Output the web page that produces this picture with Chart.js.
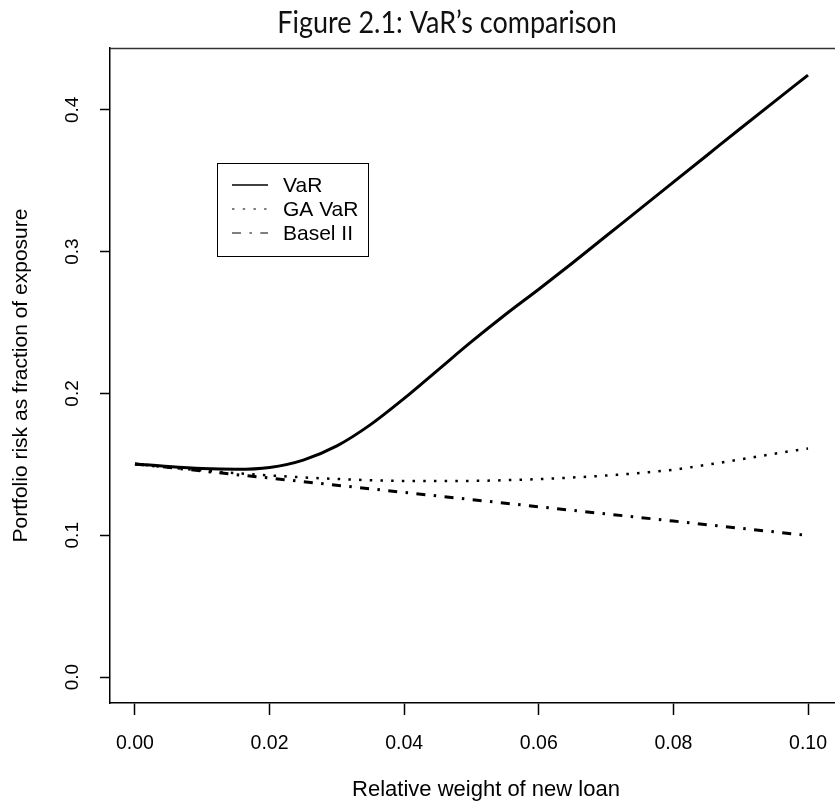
<!DOCTYPE html>
<html>
<head>
<meta charset="utf-8">
<script src="https://cdn.jsdelivr.net/npm/chart.js@4.4.0/dist/chart.umd.min.js"></script>
<style>
  html, body { margin: 0; padding: 0; background: #fff; overflow: hidden; }
  #wrap { width: 835px; height: 803px; overflow: hidden; }
</style>
</head>
<body>
<div id="wrap"><canvas id="out" width="862" height="803"></canvas></div>
<script>
// values
const weights = [0, 0.005, 0.01, 0.015, 0.02, 0.025, 0.03, 0.035, 0.04, 0.045, 0.05,
  0.055, 0.06, 0.065, 0.07, 0.075, 0.08, 0.085, 0.09, 0.095, 0.1];
const varRisk = [0.1503, 0.1484, 0.1470, 0.1465, 0.1478, 0.1530, 0.1630, 0.1780, 0.1965, 0.2165, 0.2365,
  0.2555, 0.2735, 0.2920, 0.3110, 0.3300, 0.3490, 0.3680, 0.3870, 0.4058, 0.4245];
const gaVarRisk = [0.1503, 0.1478, 0.1457, 0.1438, 0.1422, 0.1408, 0.1397, 0.1388, 0.1383, 0.1382, 0.1383,
  0.1388, 0.1396, 0.1407, 0.1421, 0.1439, 0.1462, 0.1497, 0.1535, 0.1575, 0.1612];
const baselWeights = [0, 0.02, 0.04, 0.06, 0.08, 0.1];
const baselRisk = [0.1503, 0.1403, 0.1302, 0.1201, 0.1100, 0.0998];

const xTicks = [0, 0.02, 0.04, 0.06, 0.08, 0.10];
const yTicks = [0, 0.1, 0.2, 0.3, 0.4];

const seriesLabels = ["VaR", "GA VaR", "Basel II"];
const figureTitle = "Figure 2.1: VaR\u2019s comparison";

const axisFont = "'Liberation Sans', Arial, sans-serif";

function pairs(xs, ys) {
  return xs.map((x, i) => ({ x: x, y: ys[i] }));
}

// caption, top edge of the box and the legend box (R style)
const boxAndLegend = {
  id: "boxAndLegend",
  afterDraw(chart) {
    const ctx = chart.ctx;
    const area = chart.chartArea;
    ctx.save();

    // caption is a narrow face in the original, so squeeze Lato a bit
    ctx.save();
    ctx.translate(447, 23);
    ctx.scale(0.87, 1);
    ctx.fillStyle = "#111";
    ctx.font = "31px Lato, sans-serif";
    ctx.textAlign = "center";
    ctx.textBaseline = "middle";
    ctx.fillText(figureTitle, 0, 0);
    ctx.restore();

    ctx.strokeStyle = "#333";
    ctx.lineWidth = 1.5;
    ctx.beginPath();
    ctx.moveTo(area.left, area.top + 0.5);
    ctx.lineTo(area.right, area.top + 0.5);
    ctx.stroke();

    // legend
    ctx.strokeStyle = "#000";
    ctx.lineWidth = 1;
    ctx.strokeRect(217.5, 163.5, 151, 93);
    const rows = [185, 209, 233];
    ctx.font = "21px " + axisFont;
    ctx.textAlign = "left";
    ctx.textBaseline = "middle";
    ctx.fillStyle = "#000";
    chart.data.datasets.forEach((ds, i) => {
      ctx.beginPath();
      ctx.setLineDash(ds.borderDash || []);
      ctx.lineWidth = ds.legendWidth;
      ctx.moveTo(232, rows[i]);
      ctx.lineTo(268, rows[i]);
      ctx.stroke();
      ctx.setLineDash([]);
      ctx.fillText(ds.label, 283, rows[i] + 1);
    });
    ctx.restore();
  }
};

const chartConfig = {
  type: "line",
  data: {
    datasets: [
      {
        label: seriesLabels[0],
        data: pairs(weights, varRisk),
        borderColor: "#000",
        borderWidth: 3,
        legendWidth: 1.5,
        pointRadius: 0,
        cubicInterpolationMode: "monotone"
      },
      {
        label: seriesLabels[1],
        data: pairs(weights, gaVarRisk),
        borderColor: "#000",
        borderWidth: 2.5,
        borderDash: [2.5, 8.2],
        legendWidth: 1.2,
        pointRadius: 0,
        cubicInterpolationMode: "monotone"
      },
      {
        label: seriesLabels[2],
        data: pairs(baselWeights, baselRisk),
        borderColor: "#000",
        borderWidth: 3,
        borderDash: [9, 8.4, 2.5, 8.4],
        legendWidth: 1.2,
        pointRadius: 0
      }
    ]
  },
  options: {
    responsive: false,
    animation: false,
    layout: { padding: { top: 48, left: 0, right: 0, bottom: 0 } },
    plugins: {
      legend: { display: false },
      tooltip: { enabled: false },
      title: { display: false }
    },
    scales: {
      x: {
        type: "linear",
        min: -0.00371,
        max: 0.10802,
        afterFit(scale) { scale.height = 100; scale.paddingLeft = 0; scale.paddingRight = 0; },
        afterBuildTicks(scale) { scale.ticks = xTicks.map(v => ({ value: v })); },
        border: { display: true, color: "#000", width: 1.5 },
        grid: { drawOnChartArea: false, drawTicks: true, tickLength: 12, tickColor: "#000", tickWidth: 1.5 },
        ticks: {
          padding: 17,
          color: "#000",
          font: { family: axisFont, size: 19.5 },
          callback: v => v.toFixed(2),
          maxRotation: 0
        },
        title: {
          display: true,
          text: "Relative weight of new loan",
          color: "#000",
          font: { family: axisFont, size: 22 },
          padding: { top: 0, bottom: 0 }
        }
      },
      y: {
        type: "linear",
        min: -0.0183,
        max: 0.4436,
        afterFit(scale) { scale.width = 110; scale.paddingTop = 0; scale.paddingBottom = 0; },
        afterBuildTicks(scale) { scale.ticks = yTicks.map(v => ({ value: v })); },
        border: { display: true, color: "#000", width: 1.5 },
        grid: { drawOnChartArea: false, drawTicks: true, tickLength: 10, tickColor: "#000", tickWidth: 1.5 },
        ticks: {
          padding: 14,
          color: "#000",
          minRotation: 90,
          maxRotation: 90,
          crossAlign: "center",
          font: { family: axisFont, size: 19 },
          callback: v => v.toFixed(1)
        },
        title: {
          display: true,
          text: "Portfolio risk as fraction of exposure",
          color: "#000",
          font: { family: axisFont, size: 21 },
          padding: { top: 9, bottom: 0 }
        }
      }
    }
  },
  plugins: [boxAndLegend]
};

const canvasCtx = document.getElementById("out").getContext("2d");
window.chart = new Chart(canvasCtx, chartConfig);
</script>
</body>
</html>
